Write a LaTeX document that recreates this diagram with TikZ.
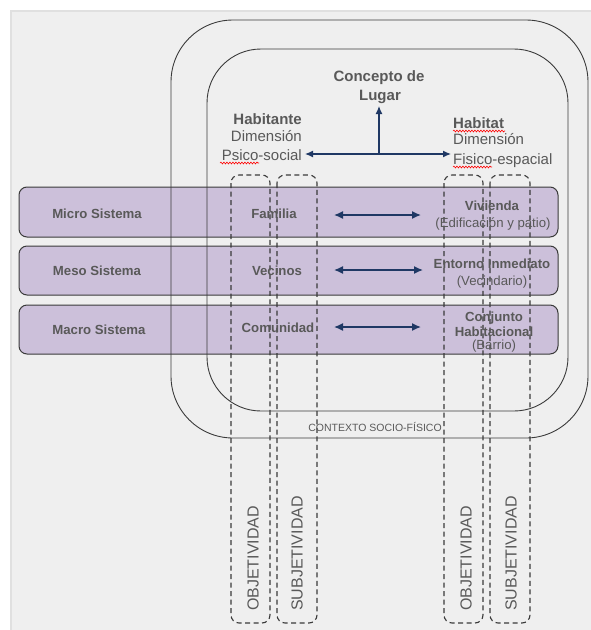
\documentclass[tikz,border=0pt]{standalone}
\usepackage{fontspec}
\setmainfont{Liberation Sans}
\usetikzlibrary{arrows.meta,decorations.pathmorphing}
\definecolor{bgc}{HTML}{EFEFEF}
\definecolor{bgline}{HTML}{E0E0E0}
\definecolor{txt}{HTML}{595959}
\definecolor{lav}{HTML}{CCC0DA}
\definecolor{edge}{HTML}{3A3A3A}
\definecolor{navy}{HTML}{1F3864}
\begin{document}
\begin{tikzpicture}[x=1pt,y=-1pt,
  barbox/.style={draw=edge, line width=1pt, fill=lav, rounded corners=8pt},
  ctxbox/.style={draw=edge, line width=0.9pt},
  colbox/.style={draw=edge, dash pattern=on 5pt off 3.5pt, line width=1.1pt, rounded corners=8pt},
  lbl/.style={text=txt, inner sep=0pt, anchor=base},
  bigb/.style={lbl, font=\fontsize{15}{18}\selectfont\bfseries},
  bign/.style={lbl, font=\fontsize{15}{18}\selectfont},
  barb/.style={lbl, font=\fontsize{13.2}{16}\selectfont\bfseries},
  barn/.style={lbl, font=\fontsize{13.2}{16}\selectfont},
  vert/.style={text=txt, inner sep=0pt, anchor=west, rotate=90, font=\fontsize{16}{18}\selectfont},
  dblarr/.style={draw=navy, line width=1.4pt, {Latex[length=9pt,width=8pt]}-{Latex[length=9pt,width=8pt]}},
  onearr/.style={draw=navy, line width=1.3pt, -{Latex[length=8pt,width=7pt]}},
  wavy/.style={draw=red, line width=0.6pt, decorate, decoration={snake, amplitude=0.9pt, segment length=3pt}}
]
\useasboundingbox (0,0) rectangle (590,630);
\fill[white] (0,0) rectangle (590,630);
\draw[fill=bgc, draw=bgline, line width=1.5pt] (11,11) rectangle (592,632);

% bars
\draw[barbox] (19,187) rectangle (558,237);
\draw[barbox] (19,246) rectangle (558,295);
\draw[barbox] (19,305) rectangle (558,354);

% context boxes
\draw[ctxbox, rounded corners=62pt] (171,20) rectangle (588,438);
\draw[ctxbox, rounded corners=54pt] (207,49) rectangle (568,411);

% dashed columns
\draw[colbox] (231,175) rectangle (270,623);
\draw[colbox] (277,175) rectangle (317,623);
\draw[colbox] (444,175) rectangle (483,623);
\draw[colbox] (490,175) rectangle (530,623);

% top texts
\node[bigb] (conc1) at (379,81) {Concepto de};
\node[bigb] (conc2) at (380,100) {Lugar};
\node[bigb, anchor=base east] (hbt1) at (302,124) {Habitante};
\node[bign, anchor=base east] (hbt2) at (302,141) {Dimensión};
\node[bign, anchor=base east] (hbt3) at (302,160) {Psico-social};
\node[bigb, anchor=base west] (hbs1) at (453,128) {Habitat};
\node[bign, anchor=base west] (hbs2) at (453,144) {Dimensión};
\node[bign, anchor=base west] (hbs3) at (453,164) {Fisico-espacial};

\draw[wavy] (220,163) -- (259,163);
\draw[wavy] (453,131) -- (505,131);
\draw[wavy] (453,167) -- (492,167);

\coordinate (hub) at (379,154);
\coordinate (hubL) at (305,154);
\coordinate (hubR) at (451,154);
\coordinate (hubU) at (379,106);
\draw[onearr] (hub) -- (hubL);
\draw[onearr] (hub) -- (hubR);
\draw[onearr] (hub) -- (hubU);

% bar labels
\node[barb] (micro) at (97,218) {Micro Sistema};
\node[barb] (meso) at (97,275) {Meso Sistema};
\node[barb] (macro) at (99,334) {Macro Sistema};

\node[barb] (fam) at (274,218) {Familia};
\node[barb] (vec) at (277,275) {Vecinos};
\node[barb] (com) at (278,332) {Comunidad};

\node[barb] (viv1) at (492,210) {Vivienda};
\node[barn] (viv2) at (493,227) {(Edificación y patio)};
\node[barb] (ent1) at (492,268) {Entorno Inmediato};
\node[barn] (ent2) at (492,285) {(Vecindario)};
\node[barb] (con1) at (494,321) {Conjunto};
\node[barb] (con2) at (494,336) {Habitacional};
\node[barn] (con3) at (494,349) {(Barrio)};

\coordinate (a1l) at (334,215); \coordinate (a1r) at (421,215);
\coordinate (a2l) at (334,270); \coordinate (a2r) at (423,270);
\coordinate (a3l) at (334,327); \coordinate (a3r) at (421,327);
\draw[dblarr] (a1l) -- (a1r);
\draw[dblarr] (a2l) -- (a2r);
\draw[dblarr] (a3l) -- (a3r);

\node[lbl, font=\fontsize{10.5}{12}\selectfont] (ctx) at (375,431) {CONTEXTO SOCIO-FÍSICO};

% vertical labels
\node[vert] (obj1) at (253,611) {OBJETIVIDAD};
\node[vert] (sub1) at (297,611) {SUBJETIVIDAD};
\node[vert] (obj2) at (466,611) {OBJETIVIDAD};
\node[vert] (sub2) at (511,611) {SUBJETIVIDAD};
\end{tikzpicture}
\end{document}
